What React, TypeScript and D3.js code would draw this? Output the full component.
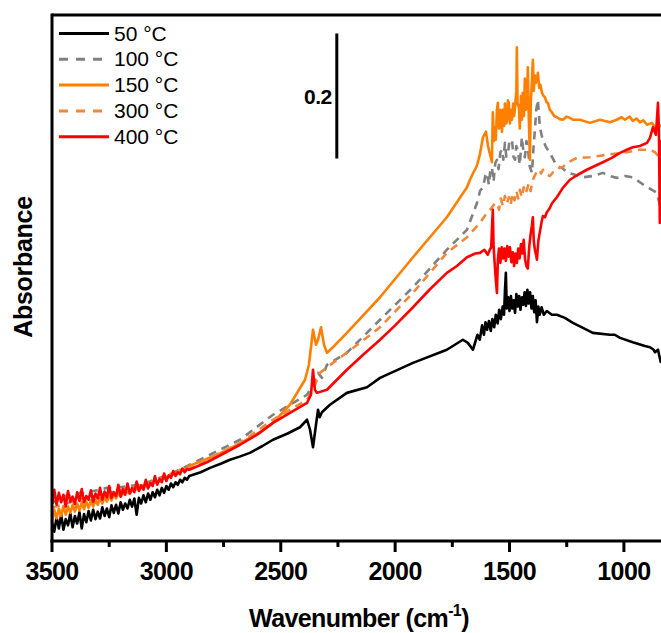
import React from 'react';
import * as d3 from 'd3';

// ---------- data (wavenumber cm-1, absorbance a.u.) ----------
const xMajorTicks = [3500, 3000, 2500, 2000, 1500, 1000];
const xMinorTicks = [3250, 2750, 2250, 1750, 1250];

const s50: [number, number][] = [
  [3500, 0.030], [3490, 0.015], [3480, 0.038], [3470, 0.020], [3460, 0.042], [3450, 0.018],
  [3440, 0.035], [3430, 0.025], [3420, 0.044], [3410, 0.022], [3400, 0.040], [3390, 0.028],
  [3380, 0.046], [3370, 0.020], [3360, 0.043], [3350, 0.030], [3340, 0.048], [3330, 0.033],
  [3320, 0.050], [3310, 0.035], [3300, 0.047], [3290, 0.036], [3280, 0.054], [3270, 0.040],
  [3260, 0.052], [3250, 0.038], [3240, 0.057], [3230, 0.045], [3220, 0.058], [3210, 0.044],
  [3200, 0.062], [3190, 0.050], [3180, 0.060], [3170, 0.052], [3160, 0.066], [3150, 0.055],
  [3140, 0.068], [3130, 0.042], [3120, 0.069], [3110, 0.060], [3100, 0.073], [3090, 0.062],
  [3080, 0.076], [3070, 0.066], [3060, 0.078], [3050, 0.070], [3040, 0.082], [3030, 0.073],
  [3020, 0.085], [3010, 0.077], [3000, 0.088], [2990, 0.082], [2980, 0.092], [2970, 0.086],
  [2960, 0.094], [2950, 0.090], [2940, 0.098], [2930, 0.094], [2920, 0.101], [2910, 0.098],
  [2900, 0.104], [2850, 0.110], [2809, 0.117], [2760, 0.124], [2722, 0.130], [2680, 0.135],
  [2635, 0.141], [2580, 0.152], [2534, 0.162], [2470, 0.172], [2416, 0.182], [2385, 0.194],
  [2372, 0.178], [2359, 0.150], [2346, 0.186], [2337, 0.210], [2330, 0.198], [2320, 0.206],
  [2285, 0.218], [2211, 0.237], [2123, 0.246], [2066, 0.261], [1922, 0.285], [1774, 0.306],
  [1739, 0.314], [1704, 0.322], [1682, 0.317], [1660, 0.306], [1650, 0.318], [1640, 0.330],
  [1630, 0.322], [1620, 0.345], [1612, 0.330], [1605, 0.350], [1598, 0.338], [1590, 0.352],
  [1582, 0.336], [1575, 0.355], [1567, 0.342], [1560, 0.362], [1552, 0.348], [1545, 0.370],
  [1538, 0.355], [1530, 0.375], [1524, 0.362], [1520, 0.400], [1516, 0.429], [1512, 0.372],
  [1506, 0.390], [1500, 0.368], [1494, 0.392], [1488, 0.372], [1482, 0.385], [1476, 0.365],
  [1470, 0.395], [1464, 0.375], [1458, 0.392], [1452, 0.370], [1446, 0.390], [1440, 0.378],
  [1434, 0.398], [1428, 0.376], [1422, 0.402], [1416, 0.380], [1410, 0.398], [1404, 0.372],
  [1398, 0.392], [1392, 0.366], [1386, 0.385], [1380, 0.350], [1374, 0.375], [1368, 0.362],
  [1360, 0.374], [1350, 0.362], [1337, 0.368], [1315, 0.362], [1293, 0.362], [1258, 0.357],
  [1223, 0.349], [1179, 0.341], [1136, 0.333], [1061, 0.330], [1040, 0.330], [1017, 0.325],
  [961, 0.318], [908, 0.312], [886, 0.310], [870, 0.306], [864, 0.302], [851, 0.306],
  [845, 0.296], [838, 0.285],
];

const s100: [number, number][] = [
  [3500, 0.060], [3480, 0.066], [3465, 0.064], [3440, 0.072], [3408, 0.074], [3380, 0.077],
  [3356, 0.076], [3320, 0.080], [3290, 0.082], [3260, 0.085], [3230, 0.084], [3203, 0.086],
  [3160, 0.088], [3115, 0.090], [3050, 0.098], [2971, 0.109], [2853, 0.130], [2678, 0.162],
  [2534, 0.202], [2385, 0.234], [2359, 0.250], [2337, 0.269], [2320, 0.261], [2298, 0.282],
  [2211, 0.301], [2066, 0.354], [1922, 0.406], [1774, 0.466], [1686, 0.498], [1643, 0.540],
  [1629, 0.560], [1616, 0.566], [1605, 0.585], [1599, 0.589], [1590, 0.570], [1585, 0.590],
  [1577, 0.598], [1570, 0.575], [1562, 0.605], [1555, 0.610], [1548, 0.595], [1540, 0.622],
  [1533, 0.626], [1527, 0.610], [1520, 0.637], [1514, 0.615], [1507, 0.621], [1500, 0.640],
  [1489, 0.642], [1483, 0.615], [1476, 0.610], [1470, 0.632], [1464, 0.626], [1455, 0.602],
  [1446, 0.646], [1440, 0.625], [1433, 0.614], [1426, 0.640], [1420, 0.630], [1412, 0.600],
  [1402, 0.589], [1395, 0.630], [1389, 0.658], [1383, 0.690], [1376, 0.706], [1371, 0.680],
  [1367, 0.662], [1360, 0.650], [1354, 0.642], [1340, 0.630], [1323, 0.621], [1308, 0.610],
  [1293, 0.600], [1271, 0.597], [1249, 0.590], [1214, 0.586], [1179, 0.582], [1136, 0.584],
  [1092, 0.589], [1061, 0.584], [1031, 0.581], [996, 0.584], [961, 0.582], [930, 0.574],
  [899, 0.566], [878, 0.562], [856, 0.557], [843, 0.538], [838, 0.514],
];

const s150: [number, number][] = [
  [3500, 0.030], [3490, 0.050], [3480, 0.036], [3470, 0.052], [3460, 0.040], [3450, 0.056],
  [3440, 0.042], [3430, 0.055], [3420, 0.045], [3410, 0.058], [3400, 0.047], [3390, 0.060],
  [3380, 0.049], [3370, 0.062], [3360, 0.051], [3350, 0.063], [3340, 0.053], [3330, 0.065],
  [3320, 0.055], [3310, 0.066], [3300, 0.058], [3290, 0.069], [3280, 0.060], [3270, 0.071],
  [3260, 0.063], [3250, 0.073], [3240, 0.065], [3230, 0.076], [3220, 0.068], [3210, 0.078],
  [3200, 0.071], [3180, 0.080], [3160, 0.076], [3140, 0.085], [3120, 0.081], [3100, 0.090],
  [3080, 0.086], [3060, 0.095], [3040, 0.092], [3020, 0.101], [3000, 0.099], [2980, 0.108],
  [2960, 0.106], [2940, 0.114], [2920, 0.113], [2900, 0.120], [2853, 0.127], [2766, 0.140],
  [2678, 0.156], [2591, 0.174], [2534, 0.189], [2460, 0.218], [2394, 0.258], [2377, 0.282],
  [2359, 0.338], [2346, 0.314], [2337, 0.322], [2324, 0.342], [2311, 0.314], [2298, 0.301],
  [2272, 0.310], [2211, 0.333], [2066, 0.390], [1922, 0.454], [1774, 0.518], [1686, 0.566],
  [1673, 0.578], [1660, 0.588], [1643, 0.600], [1630, 0.618], [1616, 0.646], [1603, 0.655],
  [1594, 0.632], [1585, 0.618], [1577, 0.606], [1573, 0.686], [1568, 0.640], [1564, 0.662],
  [1560, 0.642], [1555, 0.690], [1551, 0.701], [1546, 0.660], [1540, 0.690], [1533, 0.655],
  [1529, 0.690], [1524, 0.664], [1520, 0.700], [1515, 0.668], [1511, 0.672], [1507, 0.705],
  [1503, 0.701], [1498, 0.668], [1494, 0.690], [1489, 0.674], [1484, 0.700], [1480, 0.680],
  [1476, 0.694], [1470, 0.720], [1468, 0.790], [1465, 0.700], [1459, 0.694], [1455, 0.660],
  [1450, 0.712], [1446, 0.674], [1442, 0.717], [1437, 0.680], [1433, 0.740], [1428, 0.690],
  [1424, 0.694], [1420, 0.758], [1416, 0.680], [1413, 0.640], [1411, 0.610], [1407, 0.700],
  [1402, 0.738], [1398, 0.770], [1394, 0.720], [1390, 0.745], [1385, 0.733], [1380, 0.740],
  [1376, 0.749], [1370, 0.725], [1365, 0.730], [1358, 0.717], [1351, 0.712], [1345, 0.710],
  [1338, 0.702], [1332, 0.701], [1324, 0.690], [1315, 0.686], [1305, 0.680], [1293, 0.678],
  [1280, 0.675], [1267, 0.674], [1250, 0.679], [1236, 0.677], [1223, 0.674], [1192, 0.674],
  [1149, 0.669], [1105, 0.674], [1061, 0.670], [1031, 0.674], [1010, 0.678], [996, 0.674],
  [975, 0.679], [961, 0.672], [945, 0.676], [930, 0.670], [915, 0.673], [899, 0.666],
  [878, 0.669], [856, 0.658], [838, 0.666],
];

const s300: [number, number][] = [
  [3500, 0.053], [3400, 0.064], [3290, 0.074], [3180, 0.083], [3072, 0.093], [2960, 0.108],
  [2853, 0.125], [2678, 0.157], [2534, 0.194], [2385, 0.226], [2359, 0.242], [2329, 0.269],
  [2272, 0.285], [2154, 0.317], [2066, 0.342], [1922, 0.397], [1774, 0.461], [1686, 0.486],
  [1629, 0.509], [1599, 0.525], [1580, 0.532], [1565, 0.540], [1555, 0.541], [1546, 0.530],
  [1538, 0.548], [1529, 0.536], [1520, 0.552], [1511, 0.540], [1503, 0.550], [1495, 0.538],
  [1487, 0.556], [1478, 0.545], [1470, 0.560], [1462, 0.548], [1455, 0.562], [1446, 0.550],
  [1438, 0.566], [1430, 0.556], [1424, 0.562], [1416, 0.572], [1408, 0.560], [1398, 0.578],
  [1389, 0.585], [1380, 0.592], [1370, 0.594], [1362, 0.588], [1354, 0.594], [1345, 0.589],
  [1337, 0.586], [1323, 0.584], [1310, 0.590], [1293, 0.592], [1280, 0.598], [1267, 0.598],
  [1249, 0.605], [1205, 0.613], [1149, 0.614], [1074, 0.618], [987, 0.622], [930, 0.626],
  [886, 0.626], [864, 0.622], [838, 0.610],
];

const s400: [number, number][] = [
  [3500, 0.060], [3490, 0.082], [3480, 0.058], [3470, 0.077], [3460, 0.062], [3450, 0.074],
  [3440, 0.055], [3430, 0.080], [3420, 0.063], [3410, 0.071], [3400, 0.059], [3390, 0.078],
  [3380, 0.064], [3370, 0.083], [3360, 0.062], [3350, 0.072], [3340, 0.066], [3330, 0.081],
  [3320, 0.063], [3310, 0.076], [3300, 0.068], [3290, 0.085], [3280, 0.066], [3270, 0.079],
  [3260, 0.070], [3250, 0.088], [3240, 0.069], [3230, 0.078], [3220, 0.072], [3210, 0.090],
  [3200, 0.071], [3190, 0.083], [3180, 0.074], [3170, 0.092], [3160, 0.076], [3150, 0.085],
  [3140, 0.078], [3130, 0.095], [3120, 0.080], [3110, 0.089], [3100, 0.082], [3090, 0.098],
  [3080, 0.084], [3070, 0.093], [3060, 0.088], [3050, 0.104], [3040, 0.090], [3030, 0.099],
  [3020, 0.094], [3010, 0.108], [3000, 0.096], [2990, 0.105], [2980, 0.101], [2970, 0.112],
  [2960, 0.104], [2950, 0.110], [2940, 0.107], [2930, 0.116], [2920, 0.110], [2910, 0.115],
  [2900, 0.114], [2823, 0.126], [2760, 0.138], [2678, 0.154], [2600, 0.171], [2534, 0.189],
  [2460, 0.205], [2385, 0.221], [2368, 0.234], [2359, 0.274], [2351, 0.242], [2342, 0.237],
  [2298, 0.242], [2211, 0.274], [2140, 0.298], [2066, 0.322], [2000, 0.345], [1922, 0.374],
  [1850, 0.402], [1774, 0.429], [1730, 0.440], [1686, 0.454], [1650, 0.460], [1629, 0.461],
  [1610, 0.466], [1595, 0.458], [1586, 0.466], [1580, 0.470], [1577, 0.498], [1573, 0.530],
  [1570, 0.475], [1566, 0.450], [1560, 0.418], [1555, 0.397], [1551, 0.450], [1546, 0.468],
  [1540, 0.445], [1534, 0.470], [1528, 0.452], [1522, 0.468], [1516, 0.448], [1510, 0.472],
  [1504, 0.455], [1498, 0.470], [1492, 0.446], [1486, 0.462], [1480, 0.440], [1474, 0.460],
  [1468, 0.445], [1462, 0.468], [1456, 0.452], [1450, 0.475], [1444, 0.460], [1438, 0.482],
  [1432, 0.450], [1426, 0.440], [1420, 0.436], [1414, 0.470], [1408, 0.490], [1402, 0.505],
  [1398, 0.518], [1394, 0.480], [1389, 0.466], [1384, 0.458], [1380, 0.450], [1374, 0.480],
  [1367, 0.495], [1360, 0.510], [1354, 0.520], [1345, 0.518], [1337, 0.526], [1325, 0.532],
  [1315, 0.540], [1293, 0.550], [1267, 0.565], [1236, 0.578], [1201, 0.586], [1162, 0.594],
  [1127, 0.600], [1092, 0.606], [1053, 0.613], [1017, 0.621], [987, 0.626], [961, 0.630],
  [930, 0.632], [899, 0.637], [886, 0.645], [873, 0.662], [860, 0.650], [851, 0.701],
  [847, 0.658], [843, 0.509], [838, 0.642],
];

const seriesLabels = ['50 °C', '100 °C', '150 °C', '300 °C', '400 °C'];
const seriesData = [s50, s100, s150, s300, s400];
const seriesColors = ['#000000', '#808080', '#ff8000', '#f0883a', '#ff0000'];
const seriesDashed = [false, true, false, true, false];

const scaleBarValue = 0.2;
const scaleBarBase = 0.612;
const scaleBarWn = 2255;

// ---------- layout ----------
const W = 661;
const H = 633;
const left = 52;
const top = 15;
const bottom = 541;
const pxPer500 = 114.38;
const right = left + ((3500 - 800) / 500) * pxPer500;
const FONT = '"Liberation Sans", Arial, Helvetica, sans-serif';

export default function App() {
  const x = d3.scaleLinear().domain([3500, 800]).range([left, right]);
  const y = d3.scaleLinear().domain([0, (bottom - top) / 625]).range([bottom, top]);
  const line = d3
    .line<[number, number]>()
    .x((d) => x(d[0]))
    .y((d) => y(d[1]))
    .curve(d3.curveLinear);

  const order = [0, 1, 2, 3, 4];

  return (
    <svg
      width={W}
      height={H}
      viewBox={`0 0 ${W} ${H}`}
      style={{ position: 'absolute', left: 0, top: 0, background: '#fff' }}
      fontFamily={FONT}
    >
      <rect x={0} y={0} width={W} height={H} fill="#fff" />
      <defs>
        <clipPath id="plotclip">
          <rect x={left} y={top} width={right - left} height={bottom - top} />
        </clipPath>
      </defs>

      {/* curves */}
      <g clipPath="url(#plotclip)">
        {order.map((i) => (
          <path
            key={i}
            d={line(seriesData[i]) || ''}
            fill="none"
            stroke={seriesColors[i]}
            strokeWidth={2.6}
            strokeDasharray={seriesDashed[i] ? '8,6' : undefined}
            strokeLinejoin="round"
          />
        ))}
      </g>

      {/* frame */}
      <line x1={left} x2={left} y1={top - 1.5} y2={bottom + 1.5} stroke="#000" strokeWidth={3} />
      <line x1={left} x2={right} y1={top} y2={top} stroke="#000" strokeWidth={3} />
      <line x1={left - 1.5} x2={right} y1={bottom} y2={bottom} stroke="#000" strokeWidth={3} />
      <line x1={right} x2={right} y1={top} y2={bottom} stroke="#000" strokeWidth={3} />

      {/* ticks */}
      {xMajorTicks.map((t) => (
        <g key={t}>
          <line x1={x(t)} x2={x(t)} y1={bottom} y2={bottom + 11} stroke="#000" strokeWidth={3} />
          <text
            x={x(t)}
            y={580}
            textAnchor="middle"
            fontSize={25}
            fontWeight="bold"
            letterSpacing={-0.6}
            fill="#000"
          >
            {t}
          </text>
        </g>
      ))}
      {xMinorTicks.map((t) => (
        <line key={t} x1={x(t)} x2={x(t)} y1={bottom} y2={bottom + 6} stroke="#000" strokeWidth={3} />
      ))}

      {/* axis titles */}
      <text x={359} y={627} textAnchor="middle" fontSize={25} fontWeight="bold" letterSpacing={-0.6} fill="#000">
        <tspan>Wavenumber (cm</tspan>
        <tspan fontSize={16} dy={-11}>-1</tspan>
        <tspan dy={11}>)</tspan>
      </text>
      <text
        transform={`translate(32, 267) rotate(-90)`}
        textAnchor="middle"
        fontSize={25}
        fontWeight="bold"
        letterSpacing={-0.3}
        fill="#000"
      >
        Absorbance
      </text>

      {/* scale bar */}
      <line
        x1={x(scaleBarWn)}
        x2={x(scaleBarWn)}
        y1={y(scaleBarBase)}
        y2={y(scaleBarBase + scaleBarValue)}
        stroke="#000"
        strokeWidth={3}
      />
      <text x={x(scaleBarWn) - 5} y={104} textAnchor="end" fontSize={21} fontWeight="bold" letterSpacing={-0.5} fill="#000">
        {scaleBarValue}
      </text>

      {/* legend */}
      {seriesLabels.map((lab, i) => {
        const ly = 33.5 + i * 25.8;
        return (
          <g key={lab}>
            <line
              x1={59}
              x2={109}
              y1={ly}
              y2={ly}
              stroke={seriesColors[i]}
              strokeWidth={3}
              strokeDasharray={seriesDashed[i] ? '9,8' : undefined}
            />
            <text x={114} y={ly + 7} fontSize={21} fill="#000">
              {lab}
            </text>
          </g>
        );
      })}
    </svg>
  );
}
